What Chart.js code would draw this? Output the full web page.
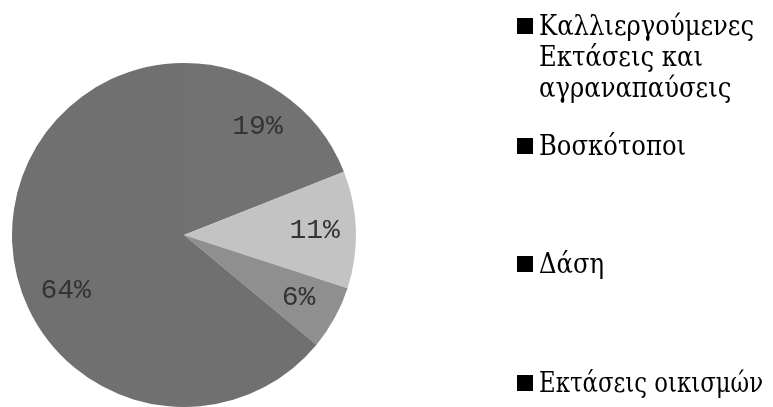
<!DOCTYPE html>
<html>
<head>
<meta charset="utf-8">
<script src="https://cdn.jsdelivr.net/npm/chart.js@4.4.1/dist/chart.umd.min.js"></script>
<style>
  html, body { margin: 0; padding: 0; background: #fff; }
  #wrap { position: relative; width: 773px; height: 407px; }
</style>
</head>
<body>
<div id="wrap"><canvas id="chart" width="773" height="407"></canvas></div>
<script>
// data
const categories = [
  ["Καλλιεργούμενες", "Εκτάσεις και", "αγραναπαύσεις"],
  ["Βοσκότοποι"],
  ["Δάση"],
  ["Εκτάσεις οικισμών"]
];
const shares = [19, 11, 6, 64];
const sliceColors = ["#727272", "#c3c3c3", "#8f8f8f", "#707070"];

// where each legend entry starts (first baseline), the picture spaces them unevenly
const legendBaselines = [35, 155, 273, 392];

const serifFont = "27px 'DejaVu Serif', serif";
const labelFont = "28px 'Liberation Mono', 'DejaVu Sans Mono', monospace";

const sliceLabels = {
  id: "sliceLabels",
  afterDatasetsDraw(chart) {
    const ctx = chart.ctx;
    const meta = chart.getDatasetMeta(0);
    ctx.save();
    ctx.font = labelFont;
    ctx.fillStyle = "#333";
    ctx.textAlign = "center";
    ctx.textBaseline = "middle";
    meta.data.forEach((arc, i) => {
      const p = arc.getProps(["x", "y", "startAngle", "endAngle", "outerRadius"], true);
      const mid = (p.startAngle + p.endAngle) / 2;
      const r = p.outerRadius * 0.76;
      ctx.fillText(shares[i] + "%", p.x + Math.cos(mid) * r, p.y + Math.sin(mid) * r);
    });
    ctx.restore();
  }
};

const sideLegend = {
  id: "sideLegend",
  afterDraw(chart) {
    const ctx = chart.ctx;
    ctx.save();
    ctx.font = serifFont;
    ctx.fillStyle = "#000";
    ctx.textBaseline = "alphabetic";
    categories.forEach((lines, i) => {
      const base = legendBaselines[i];
      ctx.fillRect(517, base - 17, 16, 16);
      lines.forEach((line, j) => {
        // DejaVu Serif runs wider than the original face, so narrow it a bit
        const w = ctx.measureText(line).width;
        ctx.fillText(line, 539, base + j * 31, Math.min(w * 0.9, 224));
      });
    });
    ctx.restore();
  }
};

function draw() {
  new Chart("chart", {
    type: "pie",
    data: {
      labels: categories,
      datasets: [{
        data: shares,
        backgroundColor: sliceColors,
        borderWidth: 0
      }]
    },
    options: {
      responsive: false,
      animation: false,
      layout: { padding: { left: 12, top: 63, right: 417, bottom: 0 } },
      plugins: {
        legend: { display: false },
        tooltip: { enabled: false }
      }
    },
    plugins: [sliceLabels, sideLegend]
  });
}

Promise.all([
  document.fonts.load(serifFont, "Καλλιεργούμενες"),
  document.fonts.load(labelFont, "19%")
]).then(draw, draw);
</script>
</body>
</html>
